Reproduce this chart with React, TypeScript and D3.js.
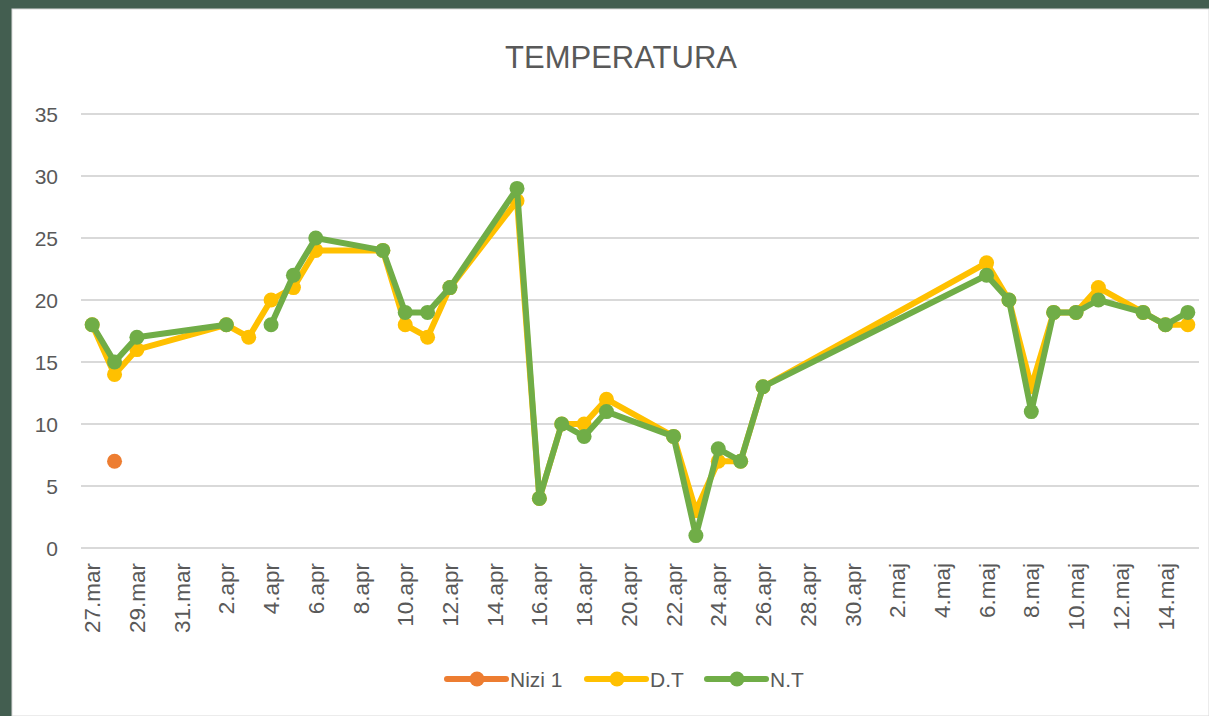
import React, { useEffect, useRef } from "react";
import * as d3 from "d3";

// one row per measured day
const days = [
  "2020-03-27", "2020-03-28", "2020-03-29", "2020-04-02", "2020-04-03",
  "2020-04-04", "2020-04-05", "2020-04-06", "2020-04-09", "2020-04-10",
  "2020-04-11", "2020-04-12", "2020-04-15", "2020-04-16", "2020-04-17",
  "2020-04-18", "2020-04-19", "2020-04-22", "2020-04-23", "2020-04-24",
  "2020-04-25", "2020-04-26", "2020-05-06", "2020-05-07", "2020-05-08",
  "2020-05-09", "2020-05-10", "2020-05-11", "2020-05-13", "2020-05-14",
  "2020-05-15",
];
const nizi1: (number | null)[] = [
  null, 7, null, null, null, null, null, null, null, null, null, null, null, null, null,
  null, null, null, null, null, null, null, null, null, null, null, null, null, null, null, null,
];
const dt: (number | null)[] = [
  18, 14, 16, 18, 17, 20, 21, 24, 24, 18, 17, 21, 28, 4, 10,
  10, 12, 9, 3, 7, 7, 13, 23, 20, 13, 19, 19, 21, 19, 18, 18,
];
const nt: (number | null)[] = [
  18, 15, 17, 18, null, 18, 22, 25, 24, 19, 19, 21, 29, 4, 10,
  9, 11, 9, 1, 8, 7, 13, 22, 20, 11, 19, 19, 20, 19, 18, 19,
];
const monthNames = ["jan", "feb", "mar", "apr", "maj", "jun", "jul", "aug", "sep", "okt", "nov", "dec"];
const yTicks = [0, 5, 10, 15, 20, 25, 30, 35];

const series = [
  { name: "Nizi 1", values: nizi1, color: "#ED7D31" },
  { name: "D.T", values: dt, color: "#FFC000" },
  { name: "N.T", values: nt, color: "#70AD47" },
];

const W = 1209;
const H = 716;
const FONT = "'Liberation Sans', Arial, sans-serif";
const TXT = "#595959";

export default function App() {
  const ref = useRef<SVGSVGElement | null>(null);

  useEffect(() => {
    const svg = d3.select(ref.current);
    svg.selectAll("*").remove();

    const parse = d3.utcParse("%Y-%m-%d");
    const dates = days.map((d) => parse(d) as Date);

    // chart background + dark frame
    svg.append("rect").attr("width", W).attr("height", H).attr("fill", "#435E50");
    svg.append("rect").attr("x", 12).attr("y", 9).attr("width", W - 12).attr("height", H - 9)
      .attr("fill", "#fff").attr("stroke", "#D9D9D9").attr("stroke-width", 1);

    const left = 81, right = 1199, top = 114, bottom = 548;

    const first = dates[0];
    const last = dates[dates.length - 1];
    const x = d3.scaleUtc()
      .domain([d3.utcHour.offset(first, -12), d3.utcHour.offset(last, 12)])
      .range([left, right]);
    const y = d3.scaleLinear().domain([0, 35]).range([bottom, top]);

    // gridlines
    svg.append("g").selectAll("line").data(yTicks).join("line")
      .attr("x1", left).attr("x2", right)
      .attr("y1", (d) => y(d)).attr("y2", (d) => y(d))
      .attr("stroke", "#D9D9D9").attr("stroke-width", 2);

    // y labels
    svg.append("g").selectAll("text").data(yTicks).join("text")
      .attr("x", 58).attr("y", (d) => y(d)).attr("dy", "0.36em")
      .attr("text-anchor", "end")
      .attr("font-family", FONT).attr("font-size", 21).attr("fill", TXT)
      .text((d) => d);

    // x labels every 2 days
    const tickDates = d3.utcDay.range(first, d3.utcDay.offset(last, 1), 1)
      .filter((d, i) => i % 2 === 0);
    svg.append("g").selectAll("text").data(tickDates).join("text")
      .attr("transform", (d) => `translate(${x(d)},563) rotate(-90)`)
      .attr("dy", "0.36em")
      .attr("text-anchor", "end")
      .attr("font-family", FONT).attr("font-size", 22.5).attr("fill", TXT)
      .text((d) => `${d.getUTCDate()}.${monthNames[d.getUTCMonth()]}`);

    // series
    series.forEach((s) => {
      const pts = dates.map((d, i) => ({ d, v: s.values[i] }));
      const line = d3.line<{ d: Date; v: number | null }>()
        .defined((p) => p.v !== null)
        .x((p) => x(p.d))
        .y((p) => y(p.v as number));
      svg.append("path")
        .datum(pts)
        .attr("d", line)
        .attr("fill", "none")
        .attr("stroke", s.color)
        .attr("stroke-width", 6)
        .attr("stroke-linejoin", "round")
        .attr("stroke-linecap", "round");
      svg.append("g").selectAll("circle").data(pts.filter((p) => p.v !== null)).join("circle")
        .attr("cx", (p) => x(p.d))
        .attr("cy", (p) => y(p.v as number))
        .attr("r", 7.5)
        .attr("fill", s.color);
    });

    // title
    svg.append("text")
      .attr("x", 621).attr("y", 68)
      .attr("text-anchor", "middle")
      .attr("font-family", FONT).attr("font-size", 31).attr("fill", TXT)
      .text("TEMPERATURA");

    // legend
    const lx = [447, 587, 707];
    const ly = 679;
    series.forEach((s, i) => {
      const g = svg.append("g").attr("transform", `translate(${lx[i]},${ly})`);
      g.append("line").attr("x1", 0).attr("x2", 59).attr("y1", 0).attr("y2", 0)
        .attr("stroke", s.color).attr("stroke-width", 6).attr("stroke-linecap", "round");
      g.append("circle").attr("cx", 30).attr("cy", 0).attr("r", 7.5).attr("fill", s.color);
      g.append("text").attr("x", 63).attr("y", 0).attr("dy", "0.36em")
        .attr("font-family", FONT).attr("font-size", 21).attr("fill", TXT)
        .text(s.name);
    });
  }, []);

  return (
    <svg
      ref={ref}
      width={W}
      height={H}
      style={{ position: "absolute", left: 0, top: 0, display: "block" }}
    />
  );
}
